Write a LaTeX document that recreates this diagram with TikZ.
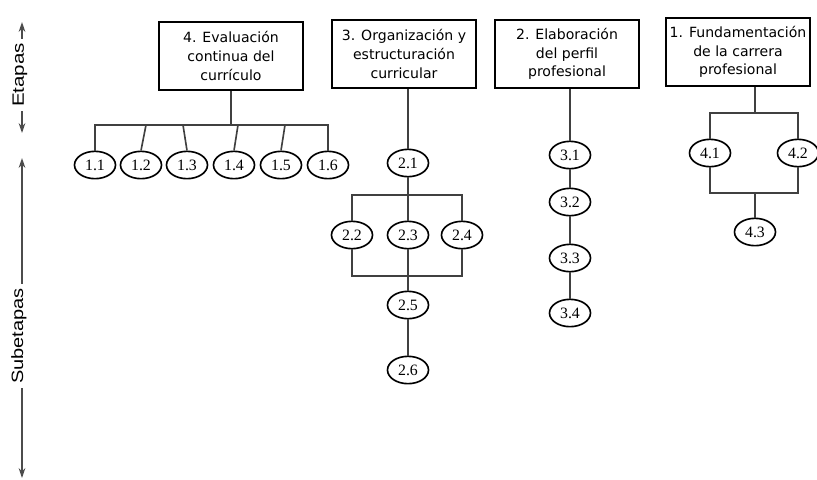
\documentclass[tikz,border=0pt]{standalone}
\usepackage{fontspec}
\setmainfont{Liberation Serif}
\newfontfamily\boxfont{DejaVu Sans}
\newfontfamily\axisfont{Liberation Sans}
\usetikzlibrary{shapes.geometric,arrows.meta}
\tikzset{
  etapa/.style={draw,line width=1.5pt,align=center,minimum width=43mm,minimum height=20.6mm,inner sep=0pt,font=\boxfont\fontsize{12}{16}\selectfont},
  sub/.style={draw,ellipse,line width=1.4pt,minimum width=12.3mm,minimum height=8.2mm,inner sep=0pt,font=\fontsize{13.5}{13.5}\selectfont},
  link/.style={line width=1.4pt,color=black!75},
  eje/.style={line width=1.2pt,color=black!70,{Stealth[length=3mm,width=2mm]}-{Stealth[length=3mm,width=2mm]}},
  rotulo/.style={rotate=90,fill=white,inner sep=1.2mm,font=\axisfont\fontsize{14}{14}\selectfont}
}
\begin{document}
\begin{tikzpicture}[x=0.3mm,y=-0.3mm]
\useasboundingbox (0,0) rectangle (817,479);
% ejes
\coordinate (E1) at (22,22);
\coordinate (E2) at (22,133);
\coordinate (S1) at (22,158);
\coordinate (S2) at (22,478);
\draw[eje] (E1)--(E2);
\draw[eje] (S1)--(S2);
\node[rotulo] (etq) at (20,75) {\scalebox{1.25}[1]{Etapas}};
\node[rotulo] (sub) at (19,336) {\scalebox{1.22}[1]{Subetapas}};
% etapas
\node[etapa] (b4) at (231,56) {4. Evaluación\\continua del\\currículo};
\node[etapa] (b3) at (404,54) {3. Organización y\\estructuración\\curricular};
\node[etapa] (b2) at (567,54) {2. Elaboración\\del perfil\\profesional};
\node[etapa] (b1) at (738,52) {1. Fundamentación\\de la carrera\\profesional};
% barras
\coordinate (h1) at (0,125);
\coordinate (h2) at (0,195);
\coordinate (h3) at (0,276);
\coordinate (h4) at (0,113);
\coordinate (h5) at (0,193);
% subetapas 1
\node[sub] (e11) at (95,165) {1.1};
\node[sub] (e12) at (141,165) {1.2};
\node[sub] (e13) at (187,165) {1.3};
\node[sub] (e14) at (234,165) {1.4};
\node[sub] (e15) at (281,165) {1.5};
\node[sub] (e16) at (328,165) {1.6};
\draw[link] (b4.south)--(b4.south |- h1);
\draw[link] (e11.north)--(e11.north |- h1)--(e16.north |- h1)--(e16.north);
\draw[link] (e12.north)--([xshift=1.5mm]e12.north |- h1);
\draw[link] (e13.north)--([xshift=-1.2mm]e13.north |- h1);
\draw[link] (e14.north)--([xshift=1.2mm]e14.north |- h1);
\draw[link] (e15.north)--([xshift=1.2mm]e15.north |- h1);
% subetapas 2
\node[sub] (e21) at (408,163) {2.1};
\node[sub] (e22) at (352,235) {2.2};
\node[sub] (e23) at (408,235) {2.3};
\node[sub] (e24) at (462,235) {2.4};
\node[sub] (e25) at (408,305) {2.5};
\node[sub] (e26) at (408,370) {2.6};
\draw[link] (b3.south -| e21.north)--(e21.north);
\draw[link] (e21.south)--(e21.south |- h2);
\draw[link] (e22.north)--(e22.north |- h2)--(e24.north |- h2)--(e24.north);
\draw[link] (e23.north)--(e23.north |- h2);
\draw[link] (e22.south)--(e22.south |- h3)--(e24.south |- h3)--(e24.south);
\draw[link] (e23.south)--(e25.north);
\draw[link] (e25)--(e26);
% subetapas 3
\node[sub] (e31) at (570,155) {3.1};
\node[sub] (e32) at (570,202) {3.2};
\node[sub] (e33) at (570,258) {3.3};
\node[sub] (e34) at (570,313) {3.4};
\draw[link] (b2.south -| e31.north)--(e31.north);
\draw[link] (e31)--(e32) (e32)--(e33) (e33)--(e34);
% subetapas 4
\node[sub] (e41) at (710,153) {4.1};
\node[sub] (e42) at (798,153) {4.2};
\node[sub] (e43) at (755,232) {4.3};
\draw[link] (b1.south -| e43.north)--(e43.north |- h4);
\draw[link] (e41.north)--(e41.north |- h4)--(e42.north |- h4)--(e42.north);
\draw[link] (e41.south)--(e41.south |- h5)--(e42.south |- h5)--(e42.south);
\draw[link] (e43.north |- h5)--(e43.north);
\end{tikzpicture}
\end{document}
